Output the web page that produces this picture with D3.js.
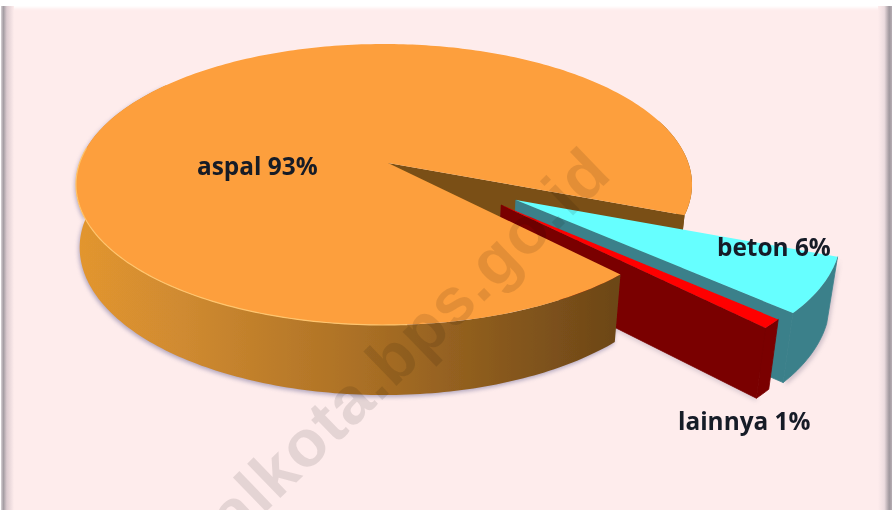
<!DOCTYPE html>
<html><head><meta charset="utf-8">
<script src="https://cdn.jsdelivr.net/npm/d3@7"></script>
<style>html,body{margin:0;padding:0;background:#fff}svg{display:block}</style>
</head><body><svg id="c" width="892" height="510"></svg>
<script>
const categories = ["aspal", "beton", "lainnya"];
const shares = [93, 6, 1];

const W = 892, H = 510;
const svg = d3.select("#c");
const defs = svg.append("defs");

// perspective disc model
const cx = 384, cy = 163, a = 304.4, b = 137.2, k = 0.153;
const apexNudge = 4, startDeg = 136.3;
const explode = [0, 0.49, 0.47];
const explodeTurn = [0, 0, -6];
const rad = Math.PI / 180;

function project(u, v, z) {
  const den = 1 + k * v, X = a * u / den, Y = b * v / den;
  const shrink = X < 0 ? 0.012 : 0.024;
  return [cx + X * (1 - shrink * z), cy - Y + z * (62 + 0.05 * Math.max(0, -Y))];
}
const pie = d3.pie().value(d => d).sort(null)
  .startAngle(startDeg * rad).endAngle(startDeg * rad + 2 * Math.PI);
const arcs = pie(shares);
const line = d3.line().curve(d3.curveLinear);

function offset(i) {
  if (i === 0) return [0, 0];
  const m = (arcs[i].startAngle + arcs[i].endAngle) / 2 + explodeTurn[i] * rad;
  return [explode[i] * Math.sin(m), explode[i] * Math.cos(m)];
}
function rimPt(i, ang, z) {
  const o = offset(i);
  return project(o[0] + Math.sin(ang), o[1] + Math.cos(ang), z);
}
function centerPt(i, z) {
  const o = offset(i), p = project(o[0], o[1], z);
  return i === 0 ? [p[0] + apexNudge, p[1]] : p;
}
function rimSeq(i, from, to, z) {
  const n = Math.max(2, Math.ceil(Math.abs(to - from) / (1 * rad)));
  return d3.range(n + 1).map(j => rimPt(i, from + (to - from) * j / n, z));
}
const topFace = i => line([centerPt(i, 0), ...rimSeq(i, arcs[i].startAngle, arcs[i].endAngle, 0)]) + "Z";
const rimWall = (i, from, to) => line([...rimSeq(i, from, to, 0), ...rimSeq(i, to, from, 1)]) + "Z";
const radialWall = (i, ang) => line([centerPt(i, 0), rimPt(i, ang, 0), rimPt(i, ang, 1), centerPt(i, 1)]) + "Z";

// filters and gradients
const soft = defs.append("filter").attr("id", "soft").attr("x", "-5%").attr("y", "-5%").attr("width", "110%").attr("height", "110%");
soft.append("feGaussianBlur").attr("stdDeviation", 0.6);
const shadow = defs.append("filter").attr("id", "shadow").attr("x", "-10%").attr("y", "-10%").attr("width", "120%").attr("height", "120%");
shadow.append("feGaussianBlur").attr("stdDeviation", 2);
const textSoft = defs.append("filter").attr("id", "textSoft");
textSoft.append("feGaussianBlur").attr("stdDeviation", 0.35);
const edgeSoft = defs.append("filter").attr("id", "edgeSoft").attr("x", "-5%").attr("y", "-5%").attr("width", "110%").attr("height", "110%");
edgeSoft.append("feGaussianBlur").attr("stdDeviation", 1.4);

const grad = defs.append("linearGradient").attr("id", "wall").attr("gradientUnits", "userSpaceOnUse")
  .attr("x1", 76).attr("x2", 617).attr("y1", 0).attr("y2", 0);
[[0, "#e3962f"], [0.2, "#cf8a30"], [0.5, "#ae7226"], [0.75, "#8d5c1e"], [1, "#6c4617"]].forEach(s =>
  grad.append("stop").attr("offset", s[0]).attr("stop-color", s[1]));
const leftG = defs.append("linearGradient").attr("id", "leftEdge");
[[0, "#d8d2d6"], [0.18, "#a39ca2"], [0.45, "#dccbd0"], [1, "#feecec"]].forEach(s =>
  leftG.append("stop").attr("offset", s[0]).attr("stop-color", s[1]));
const rightG = defs.append("linearGradient").attr("id", "rightEdge");
[[0, "#feecec"], [0.45, "#ecdcdf"], [0.8, "#a0989e"], [1, "#b4acb2"]].forEach(s =>
  rightG.append("stop").attr("offset", s[0]).attr("stop-color", s[1]));

// frame
svg.append("rect").attr("width", W).attr("height", H).attr("fill", "#ffffff");
svg.append("rect").attr("x", 6).attr("y", 8).attr("width", 880).attr("height", H - 8).attr("fill", "#feecec").attr("filter", "url(#edgeSoft)");
svg.append("rect").attr("x", 6).attr("y", 30).attr("width", 880).attr("height", H - 30).attr("fill", "#feecec");
svg.append("rect").attr("x", 1).attr("y", 6).attr("width", 13).attr("height", H - 6).attr("fill", "url(#leftEdge)");
svg.append("rect").attr("x", 878).attr("y", 6).attr("width", 14).attr("height", H - 6).attr("fill", "url(#rightEdge)");

// soft shadow under the solid
svg.append("path").attr("d", rimWall(0, arcs[0].startAngle, arcs[0].startAngle + 172 * rad))
  .attr("fill", "#7f78a0").attr("opacity", 0.6).attr("transform", "translate(-1,2)").attr("filter", "url(#shadow)");
svg.append("path").attr("d", rimWall(1, arcs[1].startAngle, arcs[1].endAngle))
  .attr("fill", "#8a7f95").attr("opacity", 0.4).attr("transform", "translate(2,3)").attr("filter", "url(#shadow)");
svg.append("path").attr("d", radialWall(2, arcs[2].endAngle))
  .attr("fill", "#8a7f95").attr("opacity", 0.3).attr("transform", "translate(0,3)").attr("filter", "url(#shadow)");

const g = svg.append("g").attr("filter", "url(#soft)");
const topColor = ["#fd9f3c", "#66ffff", "#ff0000"];
const wallColor = ["url(#wall)", "#3b808a", "#7a0000"];
const backWall = "#7a5016";

// aspal: far faces
g.append("path").attr("d", radialWall(0, arcs[0].endAngle)).attr("fill", backWall);
g.append("path").attr("d", rimWall(0, arcs[0].endAngle - 40 * rad, arcs[0].endAngle)).attr("fill", backWall);

// beton and lainnya
[1, 2].forEach(i => {
  g.append("path").attr("d", rimWall(i, arcs[i].startAngle, arcs[i].endAngle))
    .attr("fill", wallColor[i]).attr("stroke", wallColor[i]).attr("stroke-width", 0.8);
  g.append("path").attr("d", radialWall(i, arcs[i].endAngle))
    .attr("fill", wallColor[i]).attr("stroke", wallColor[i]).attr("stroke-width", 0.8);
  g.append("path").attr("d", topFace(i)).attr("fill", topColor[i]);
});

// aspal: near faces
g.append("path").attr("d", rimWall(0, arcs[0].startAngle, arcs[0].startAngle + 172 * rad)).attr("fill", wallColor[0]);
g.append("path").attr("d", topFace(0)).attr("fill", topColor[0]);
g.append("path").attr("d", line(rimSeq(0, arcs[0].startAngle + 40 * rad, arcs[0].startAngle + 140 * rad, 0)))
  .attr("fill", "none").attr("stroke", "#ffc56e").attr("stroke-width", 1.2);

// watermark
svg.append("text").attr("transform", "translate(614,176) rotate(-44)")
  .attr("text-anchor", "end").attr("font-family", "Liberation Sans").attr("font-weight", 700)
  .attr("font-size", 66).attr("letter-spacing", 1.5).attr("fill", "#000000").attr("fill-opacity", 0.1)
  .text("alkota.bps.go.id");

// labels
const labelAt = { aspal: [197, 175], beton: [717, 256], lainnya: [678, 430] };
svg.append("g").attr("filter", "url(#textSoft)").selectAll("text").data(categories).join("text")
  .attr("x", c => labelAt[c][0]).attr("y", c => labelAt[c][1])
  .attr("font-family", "Open Sans").attr("font-weight", 700).attr("font-size", 24.4)
  .attr("fill", "#141a28")
  .text((c, i) => `${c} ${shares[i]}%`);
</script></body></html>
